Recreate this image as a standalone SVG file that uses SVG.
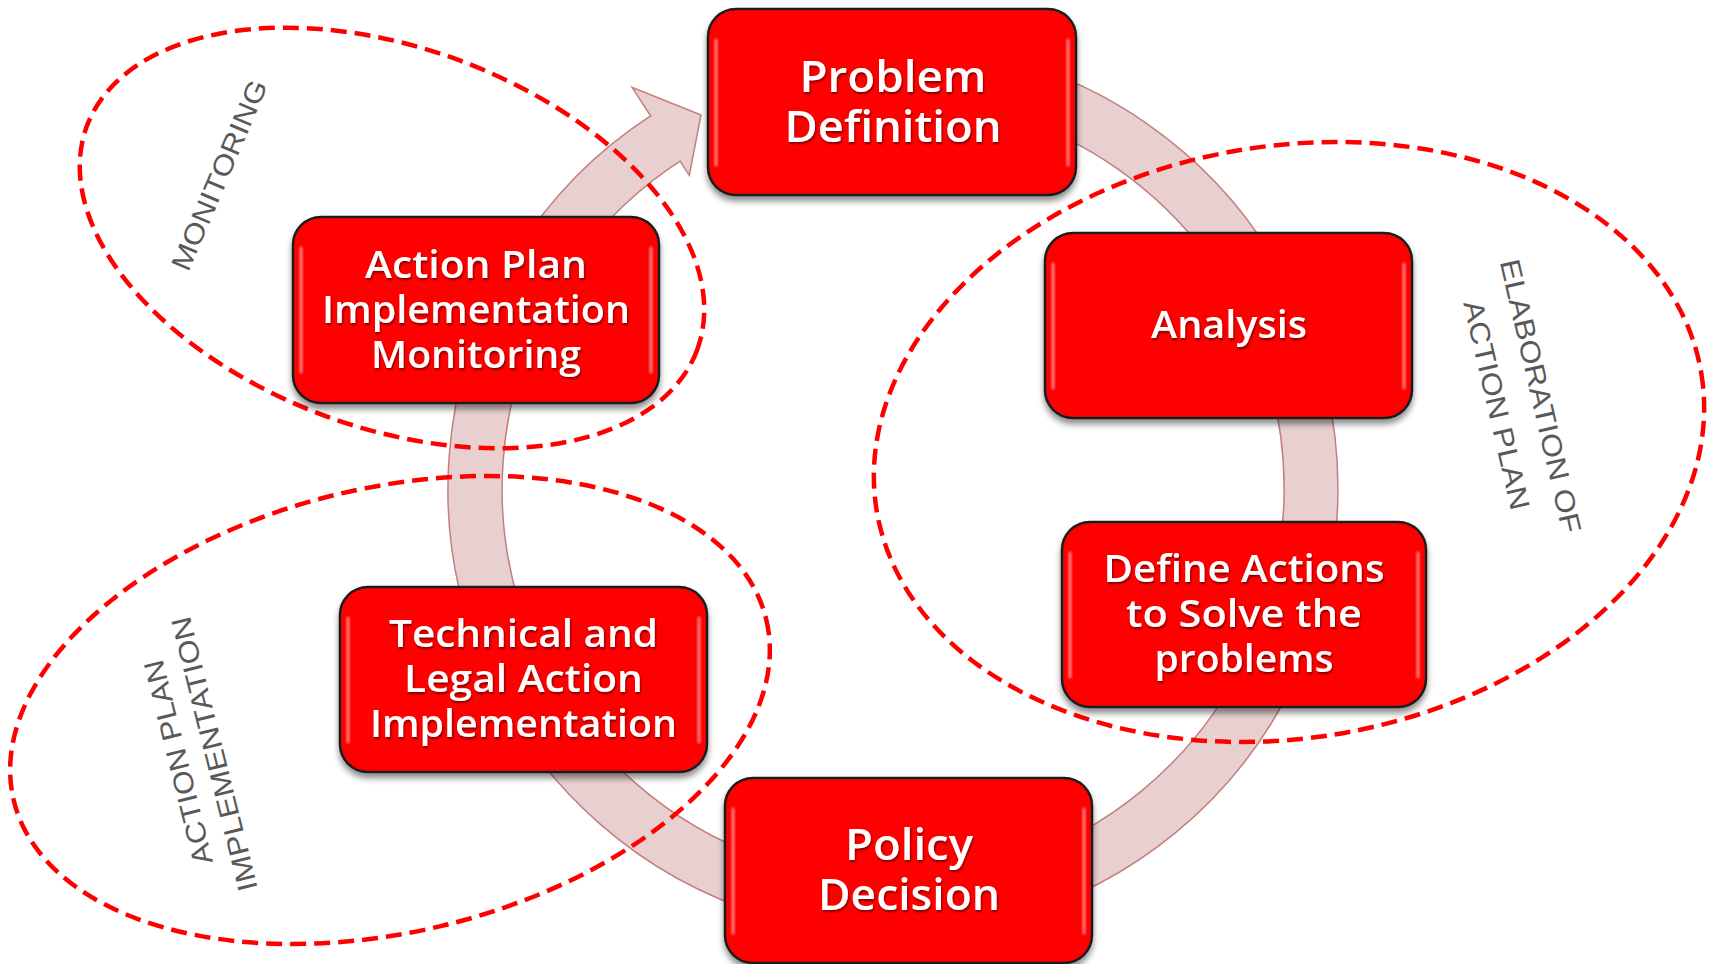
<svg xmlns="http://www.w3.org/2000/svg" width="1713" height="964" viewBox="0 0 1713 964">
  <defs>
    <filter id="boxShadow" x="-10%" y="-10%" width="120%" height="130%">
      <feGaussianBlur in="SourceAlpha" stdDeviation="3"/>
      <feOffset dx="0" dy="5" result="b"/>
      <feComponentTransfer><feFuncA type="linear" slope="0.45"/></feComponentTransfer>
      <feMerge><feMergeNode/><feMergeNode in="SourceGraphic"/></feMerge>
    </filter>
    <filter id="txtShadow" x="-10%" y="-20%" width="120%" height="140%">
      <feGaussianBlur in="SourceAlpha" stdDeviation="1.2"/>
      <feOffset dx="1" dy="1.5"/>
      <feComponentTransfer><feFuncA type="linear" slope="0.5"/></feComponentTransfer>
      <feMerge><feMergeNode/><feMergeNode in="SourceGraphic"/></feMerge>
    </filter>
    <filter id="soft" x="-50%" y="-10%" width="200%" height="120%">
      <feGaussianBlur stdDeviation="1"/>
    </filter>
  </defs>
  <style>
    .box { fill: #FF0000; stroke: #1e1e1e; stroke-width: 2.5; }
    .gloss { stroke: #ffffff; stroke-opacity: 0.5; stroke-width: 3; stroke-linecap: round; fill: none; }
    .lbl { fill: #ffffff; font-family: "Open Sans", "DejaVu Sans", sans-serif; font-weight: 600; font-size: 38px; text-anchor: middle; }
    .big { font-size: 44px; }
    .grp { fill: none; stroke: #FF0000; stroke-width: 4.5; stroke-dasharray: 16 8; }
    .cap { fill: #595959; font-family: "Liberation Sans", Arial, sans-serif; font-size: 28px; text-anchor: middle; }
    .band { fill: #E8D0D1; stroke: #C47E7E; stroke-width: 1.5; }
  </style>
  <rect width="1713" height="964" fill="#ffffff"/>

  <g id="connectors">
    <path class="band" d="M 970.3,50.8 A 445 445 0 1 1 650.6,115.8 L 632.1,87.3 L 701,115 L 689.3,175.3 L 680.1,161.1 A 391 391 0 1 0 960.9,103.9 Z"/>
  </g>

  <g id="groups">
    <ellipse id="grp-monitoring" class="grp" cx="392" cy="238" rx="325" ry="190" transform="rotate(20 392 238)"/>
    <ellipse id="grp-elaboration" class="grp" cx="1289" cy="442" rx="418" ry="296" transform="rotate(-9.5 1289 442)"/>
    <ellipse id="grp-implementation" class="grp" cx="390" cy="710" rx="387" ry="222" transform="rotate(-13.5 390 710)"/>
  </g>

  <g id="node-problem" filter="url(#boxShadow)">
    <rect class="box" x="708" y="9" width="368" height="186" rx="28"/>
    <path class="gloss" filter="url(#soft)" d="M 716,40 V 165 M 1068,40 V 165"/>
    <g filter="url(#txtShadow)">
      <text class="lbl big" x="893" y="92" textLength="187" lengthAdjust="spacingAndGlyphs">Problem</text>
      <text class="lbl big" x="893" y="142" textLength="217" lengthAdjust="spacingAndGlyphs">Definition</text>
    </g>
  </g>

  <g id="node-analysis" filter="url(#boxShadow)">
    <rect class="box" x="1045" y="233" width="367" height="185" rx="28"/>
    <path class="gloss" filter="url(#soft)" d="M 1053,264 V 388 M 1404,264 V 388"/>
    <g filter="url(#txtShadow)">
      <text class="lbl" x="1229" y="338" textLength="156" lengthAdjust="spacingAndGlyphs">Analysis</text>
    </g>
  </g>

  <g id="node-define" filter="url(#boxShadow)">
    <rect class="box" x="1062" y="522" width="364" height="185" rx="28"/>
    <path class="gloss" filter="url(#soft)" d="M 1070,553 V 677 M 1418,553 V 677"/>
    <g filter="url(#txtShadow)">
      <text class="lbl" x="1244" y="582" textLength="281" lengthAdjust="spacingAndGlyphs">Define Actions</text>
      <text class="lbl" x="1244" y="627" textLength="236" lengthAdjust="spacingAndGlyphs">to Solve the</text>
      <text class="lbl" x="1244" y="672" textLength="179" lengthAdjust="spacingAndGlyphs">problems</text>
    </g>
  </g>

  <g id="node-policy" filter="url(#boxShadow)">
    <rect class="box" x="725" y="778" width="367" height="185" rx="28"/>
    <path class="gloss" filter="url(#soft)" d="M 733,809 V 933 M 1084,809 V 933"/>
    <g filter="url(#txtShadow)">
      <text class="lbl big" x="909" y="860" textLength="128" lengthAdjust="spacingAndGlyphs">Policy</text>
      <text class="lbl big" x="909" y="910" textLength="182" lengthAdjust="spacingAndGlyphs">Decision</text>
    </g>
  </g>

  <g id="node-technical" filter="url(#boxShadow)">
    <rect class="box" x="340" y="587" width="367" height="185" rx="28"/>
    <path class="gloss" filter="url(#soft)" d="M 348,618 V 742 M 699,618 V 742"/>
    <g filter="url(#txtShadow)">
      <text class="lbl" x="523.5" y="647" textLength="269" lengthAdjust="spacingAndGlyphs">Technical and</text>
      <text class="lbl" x="523.5" y="692" textLength="239" lengthAdjust="spacingAndGlyphs">Legal Action</text>
      <text class="lbl" x="523.5" y="737" textLength="307" lengthAdjust="spacingAndGlyphs">Implementation</text>
    </g>
  </g>

  <g id="node-monitoring" filter="url(#boxShadow)">
    <rect class="box" x="293" y="217" width="366" height="186" rx="28"/>
    <path class="gloss" filter="url(#soft)" d="M 301,248 V 372 M 651,248 V 372"/>
    <g filter="url(#txtShadow)">
      <text class="lbl" x="476" y="278" textLength="222" lengthAdjust="spacingAndGlyphs">Action Plan</text>
      <text class="lbl" x="476" y="323" textLength="308" lengthAdjust="spacingAndGlyphs">Implementation</text>
      <text class="lbl" x="476" y="368" textLength="210" lengthAdjust="spacingAndGlyphs">Monitoring</text>
    </g>
  </g>

  <g id="group-labels">
    <text class="cap" transform="translate(219 175) rotate(-67)" x="0" y="10" textLength="204" lengthAdjust="spacingAndGlyphs">MONITORING</text>
    <text class="cap" transform="translate(1541 396) rotate(77)" x="0" y="10" textLength="280" lengthAdjust="spacingAndGlyphs">ELABORATION OF</text>
    <text class="cap" transform="translate(1497 405) rotate(77)" x="0" y="10" textLength="214" lengthAdjust="spacingAndGlyphs">ACTION PLAN</text>
    <text class="cap" transform="translate(178 762.5) rotate(-104)" x="0" y="10" textLength="210" lengthAdjust="spacingAndGlyphs">ACTION PLAN</text>
    <text class="cap" transform="translate(214 754) rotate(-104)" x="0" y="10" textLength="282" lengthAdjust="spacingAndGlyphs">IMPLEMENTATION</text>
  </g>
</svg>
